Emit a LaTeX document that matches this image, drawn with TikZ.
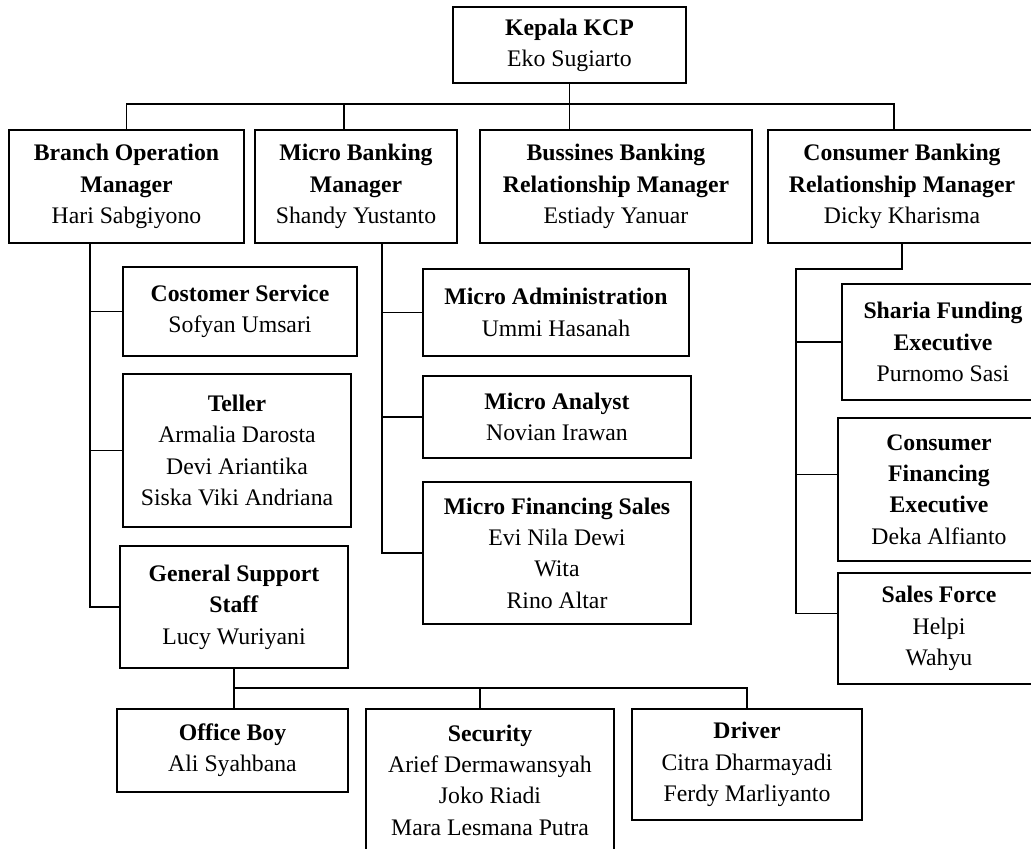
\documentclass[tikz,border=0pt]{standalone}
\usepackage{fontspec}
\setmainfont{Liberation Serif}
\begin{document}
\begin{tikzpicture}[x=0.75pt, y=-0.75pt, line width=0.9pt,
        orgbox/.style={draw, anchor=north west, align=center, inner sep=0pt, outer sep=0pt,
            font=\fontsize{17.8}{23.5}\selectfont}]
        \path[use as bounding box, fill=white] (0,0) rectangle (1031,849);

        % head of office
        \node[orgbox, minimum width=174.75pt, minimum height=57pt] (kepala) at (453,7) {\textbf{Kepala KCP}\\Eko Sugiarto};

        % managers
        \node[orgbox, minimum width=176.25pt, minimum height=84.75pt] (branch) at (9,130) {\textbf{Branch Operation}\\\textbf{Manager}\\Hari Sabgiyono};
        \node[orgbox, minimum width=151.5pt, minimum height=84.75pt] (microbank) at (255,130) {\textbf{Micro Banking}\\\textbf{Manager}\\Shandy Yustanto};
        \node[orgbox, minimum width=204pt, minimum height=84.75pt] (bussines) at (480,130) {\textbf{Bussines Banking}\\\textbf{Relationship Manager}\\Estiady Yanuar};
        \node[orgbox, minimum width=201pt, minimum height=84.75pt] (consumer) at (768,130) {\textbf{Consumer Banking}\\\textbf{Relationship Manager}\\Dicky Kharisma};

        % branch operation staff
        \node[orgbox, minimum width=175.5pt, minimum height=66.75pt] (costomer) at (123,267) {\textbf{Costomer Service}\\Sofyan Umsari};
        \node[orgbox, minimum width=171pt, minimum height=114.75pt] (teller) at (123,374) {\textbf{Teller}\\Armalia Darosta\\Devi Ariantika\\Siska Viki Andriana};
        \node[orgbox, minimum width=171pt, minimum height=91.5pt] (gss) at (120,546) {\textbf{General Support}\\\textbf{Staff}\\Lucy Wuriyani};

        % micro banking staff
        \node[orgbox, minimum width=199.5pt, minimum height=65.25pt] (microadmin) at (423,269) {\textbf{Micro Administration}\\Ummi Hasanah};
        \node[orgbox, minimum width=201pt, minimum height=61.5pt] (microanalyst) at (423,376) {\textbf{Micro Analyst}\\Novian Irawan};
        \node[orgbox, minimum width=201pt, minimum height=106.5pt] (microfin) at (423,482) {\textbf{Micro Financing Sales}\\Evi Nila Dewi\\Wita\\Rino Altar};

        % consumer banking staff
        \node[orgbox, minimum width=151.5pt, minimum height=87pt] (sharia) at (842,284) {\textbf{Sharia Funding}\\\textbf{Executive}\\Purnomo Sasi};
        \node[orgbox, minimum width=151.5pt, minimum height=107.25pt] (consfin) at (838,418) {\textbf{Consumer}\\\textbf{Financing}\\\textbf{Executive}\\Deka Alfianto};
        \node[orgbox, minimum width=151.5pt, minimum height=83.25pt] (sales) at (838,573) {\textbf{Sales Force}\\Helpi\\Wahyu};

        % general support staff
        \node[orgbox, minimum width=173.25pt, minimum height=62.25pt] (officeboy) at (117,709) {\textbf{Office Boy}\\Ali Syahbana};
        \node[orgbox, minimum width=186pt, minimum height=106.5pt] (security) at (366,709) {\textbf{Security}\\Arief Dermawansyah\\Joko Riadi\\Mara Lesmana Putra};
        \node[orgbox, minimum width=172.5pt, minimum height=83.25pt] (driver) at (632,709) {\textbf{Driver}\\Citra Dharmayadi\\Ferdy Marliyanto};

        % lines to managers
        \coordinate (topbus) at (126,104);
        \draw (kepala.south) -- (kepala.south |- bussines.north);
        \draw (branch.north) |- (topbus) -| ([xshift=-6pt]consumer.north);
        \draw ([xshift=-9pt]microbank.north) -- ([xshift=-9pt]microbank.north |- topbus);

        % branch operation lines
        \coordinate (bspine) at (90,243);
        \draw (bspine) |- (gss.west);
        \draw (bspine |- costomer.west) -- (costomer.west);
        \draw (bspine |- teller.west) -- (teller.west);

        % micro banking lines
        \coordinate (mspine) at (382,243);
        \draw (mspine) |- (microfin.west);
        \draw (mspine |- microadmin.west) -- (microadmin.west);
        \draw (mspine |- microanalyst.west) -- (microanalyst.west);

        % consumer banking lines
        \coordinate (cspine) at (796,269);
        \draw (consumer.south) |- (cspine) |- ([yshift=11pt]sales.west);
        \draw (cspine |- sharia.west) -- (sharia.west);
        \draw ([yshift=11pt]consfin.west -| cspine) -- ([yshift=11pt]consfin.west);

        % general support lines
        \coordinate (gbus) at (0,688);
        \draw (gss.south) -- (gss.south |- officeboy.north);
        \draw (gss.south |- gbus) -| (driver.north);
        \draw ([xshift=-7.5pt]security.north |- gbus) -- ([xshift=-7.5pt]security.north);
\end{tikzpicture}
\end{document}
